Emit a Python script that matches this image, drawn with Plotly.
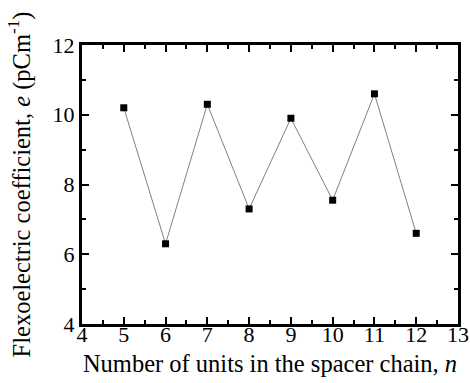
import plotly.graph_objects as go

n_units = [5, 6, 7, 8, 9, 10, 11, 12]
e_coef = [10.2, 6.3, 10.3, 7.3, 9.9, 7.55, 10.6, 6.6]

font_family = "Liberation Serif"

fig = go.Figure()
fig.add_trace(go.Scatter(
    x=n_units, y=e_coef, mode="lines+markers",
    line=dict(color="#808080", width=1),
    marker=dict(symbol="square", size=7, color="black"),
    showlegend=False,
))

axis_common = dict(
    showline=True, linecolor="black", linewidth=3, mirror="allticks",
    ticks="inside", ticklen=7, tickwidth=2, tickcolor="black",
    showgrid=False, zeroline=False, automargin=False,
    tickfont=dict(family=font_family, size=22, color="black"),
)

fig.update_xaxes(
    range=[4, 13], dtick=1, tick0=4,
    minor=dict(ticks="inside", dtick=0.5, ticklen=4, tickwidth=2, tickcolor="black", showgrid=False),
    title=dict(text="Number of units in the spacer chain, <i>n</i>",
               font=dict(family=font_family, size=24.5, color="black"), standoff=9),
    ticklabelstandoff=-11,
    **axis_common,
)
fig.update_yaxes(
    range=[4, 12], dtick=2, tick0=4,
    minor=dict(ticks="inside", dtick=1, ticklen=4, tickwidth=2, tickcolor="black", showgrid=False),
    title=dict(text="Flexoelectric coefficient, <i>e</i> (pCm<sup>-1</sup>)",
               font=dict(family=font_family, size=24.5, color="black"), standoff=16),
    **axis_common,
)

fig.update_layout(
    width=470, height=383,
    margin=dict(l=82, r=12, t=45, b=59),
    paper_bgcolor="white", plot_bgcolor="white",
)

fig.write_html("out.html")
